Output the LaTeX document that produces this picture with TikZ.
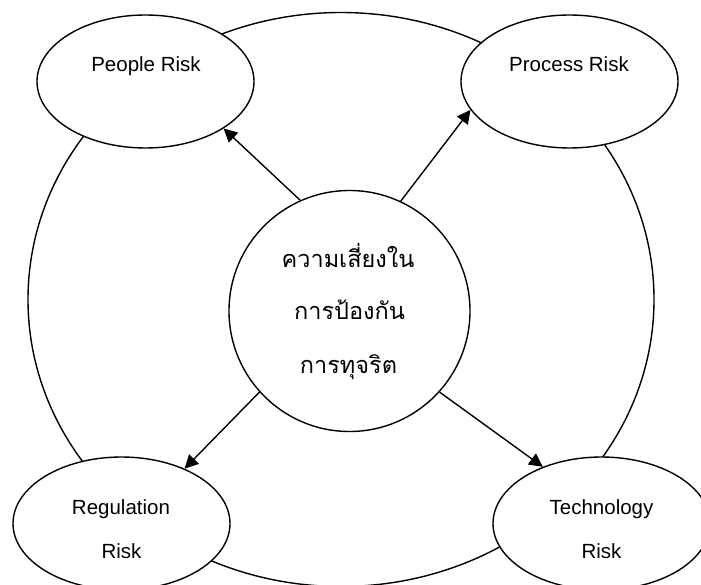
\documentclass[tikz,border=0pt]{standalone}
\usepackage{fontspec}
\setmainfont{Liberation Sans}
\newfontfamily\thaifont[Script=Thai]{Loma}
\usetikzlibrary{shapes.geometric,arrows.meta}
\begin{document}
\begin{tikzpicture}[x=1pt,y=-1pt,
  ring/.style={ellipse, draw, line width=1.4pt, fill=white, minimum width=217pt, minimum height=133pt, inner sep=0pt},
  core/.style={circle, draw, line width=1.4pt, fill=white, minimum size=241pt, inner sep=0pt},
  lbl/.style={font=\fontsize{20.5}{24}\selectfont, anchor=base, inner sep=0pt},
  thai/.style={font=\thaifont\fontsize{23.5}{28}\selectfont, anchor=base, inner sep=0pt},
  arr/.style={line width=1.4pt, -{Triangle[length=13.5pt,width=13.5pt]}}]
\useasboundingbox (0,0) rectangle (701,585);
\clip (0,0) rectangle (701,585);
\node[ellipse, draw, line width=1.4pt, minimum width=626pt, minimum height=574pt, inner sep=0pt] (outer) at (341,299.5) {};
\node[ring] (people) at (145.5,81.5) {};
\node[ring] (process) at (569.5,81.5) {};
\node[ring] (reg) at (121.5,523.5) {};
\node[ring] (tech) at (601.5,523.5) {};
\node[core] (core) at (349.5,311) {};
\node[lbl] (tp) at (146,72) {People Risk};
\node[lbl] (tpr) at (569,72) {Process Risk};
\node[lbl] (tr1) at (121,514) {Regulation};
\node[lbl] (tr2) at (121.5,558) {Risk};
\node[lbl] (tt1) at (601.5,514) {Technology};
\node[lbl] (tt2) at (601.5,558) {Risk};
\node[thai] (c1) at (348,268) {ความเสี่ยงใน};
\node[thai] (c2) at (349.5,319) {การป้องกัน};
\node[thai] (c3) at (348.5,373) {การทุจริต};
\draw[arr] (core.114.9) -- (people.-31);
\draw[arr] (core.65.1) -- (process.196.5);
\draw[arr] (core.222) -- (reg.41.5);
\draw[arr] (core.318.4) -- (tech.136.9);
\end{tikzpicture}
\end{document}
